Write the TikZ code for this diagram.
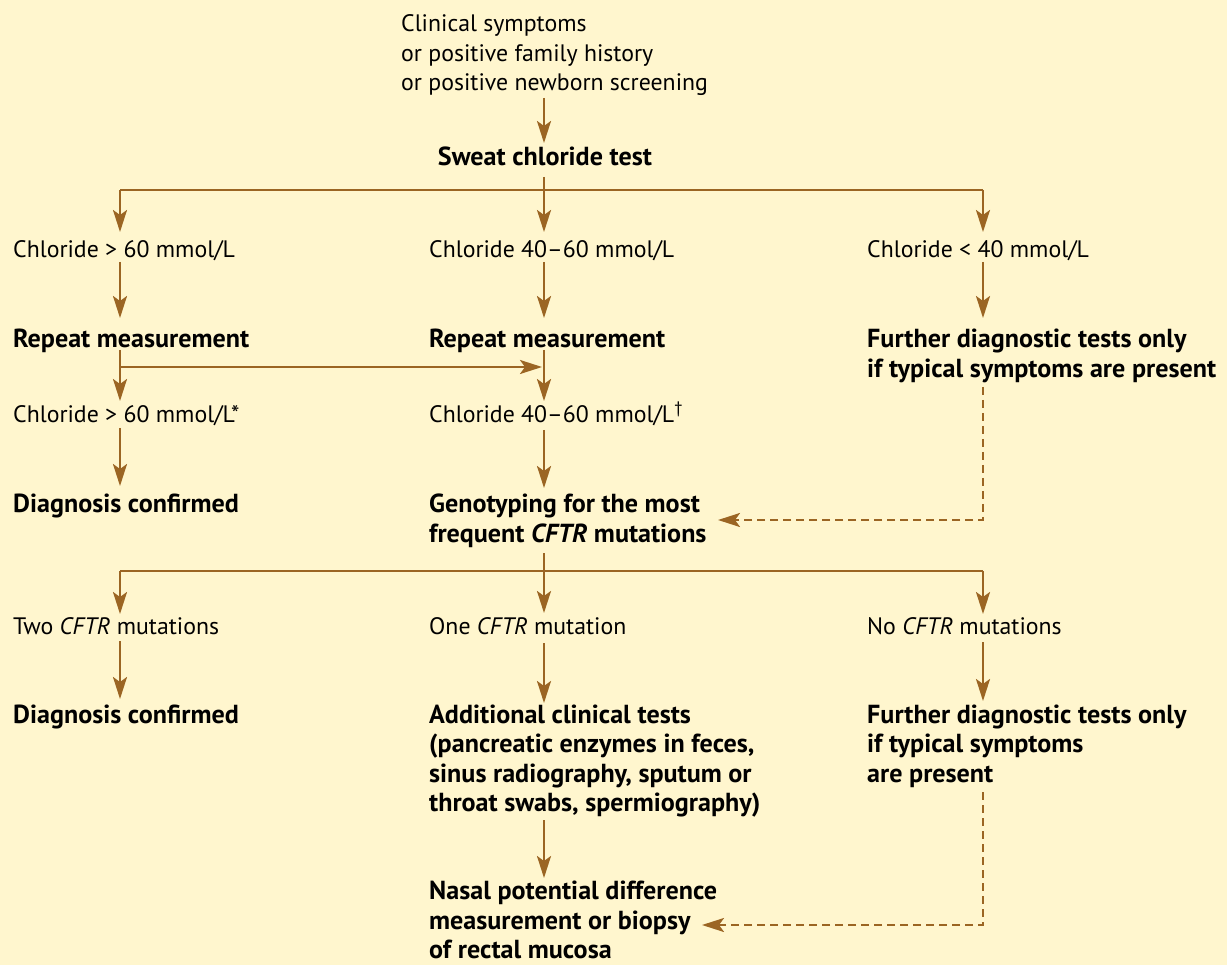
\documentclass[tikz,border=0pt]{standalone}
\usepackage{fontspec}
\setmainfont{PT Sans}
\usetikzlibrary{arrows.meta}
\definecolor{bg}{HTML}{FFF6CE}
\definecolor{br}{HTML}{9B6523}
\tikzset{
  txt/.style={anchor=base west, inner sep=0pt, align=left, font=\fontsize{23.8}{29.5}\selectfont},
  btxt/.style={txt, font=\fontsize{26.1}{29.5}\selectfont\bfseries},
  conn/.style={draw=br, line width=2.4pt},
  arr/.style={conn, -{Stealth[length=22pt, width=14pt, inset=5pt]}},
  darr/.style={arr, dash pattern=on 8pt off 5pt},
}
\begin{document}
\begin{tikzpicture}[x=1pt,y=-1pt]
\fill[bg] (0,0) rectangle (1227,965);
\useasboundingbox (0,0) rectangle (1227,965);

% text nodes (multi-line nodes are placed by the baseline of their last line)
\node[txt] (start) at (401,91) {Clinical symptoms\\or positive family history\\or positive newborn screening};
\node[btxt, anchor=base] (sweat) at (545,166) {Sweat chloride test};
\node[txt] (hi1) at (13,258) {Chloride > 60 mmol/L};
\node[txt] (mid1) at (429,258) {Chloride 40–60 mmol/L};
\node[txt] (lo1) at (867,258) {Chloride < 40 mmol/L};
\node[btxt] (rep1) at (13,348) {Repeat measurement};
\node[btxt] (rep2) at (429,348) {Repeat measurement};
\node[btxt] (fur1) at (867,377.5) {Further diagnostic tests only\\if typical symptoms are present};
\node[txt] (hi2) at (13,423) {Chloride > 60 mmol/L*};
\node[txt] (mid2) at (429,423) {Chloride 40–60 mmol/L\textsuperscript{†}};
\node[btxt] (conf1) at (13,513) {Diagnosis confirmed};
\node[btxt] (geno) at (429,542.5) {Genotyping for the most\\frequent \textit{CFTR} mutations};
\node[txt] (two) at (13,634) {Two \textit{CFTR} mutations};
\node[txt] (one) at (429,634) {One \textit{CFTR} mutation};
\node[txt] (none) at (867,634) {No \textit{CFTR} mutations};
\node[btxt] (conf2) at (13,723) {Diagnosis confirmed};
\node[btxt] (add) at (429,811.5) {Additional clinical tests\\(pancreatic enzymes in feces,\\sinus radiography, sputum or\\throat swabs, spermiography)};
\node[btxt] (fur2) at (867,782) {Further diagnostic tests only\\if typical symptoms\\are present};
\node[btxt] (nasal) at (429,958.5) {Nasal potential difference\\measurement or biopsy\\of rectal mucosa};

% connector points
\coordinate (startB) at (544,98);
\coordinate (sweatT) at (544,143);
\coordinate (sweatB) at (544,177);
\coordinate (j1L) at (120,190);
\coordinate (j1R) at (983,190);
\coordinate (hi1T) at (120,232);
\coordinate (mid1T) at (544,232);
\coordinate (lo1T) at (983,232);
\coordinate (hi1B) at (120,262);
\coordinate (mid1B) at (544,262);
\coordinate (lo1B) at (983,262);
\coordinate (rep1T) at (120,318);
\coordinate (rep2T) at (544,318);
\coordinate (fur1T) at (983,318);
\coordinate (rep1B) at (120,350);
\coordinate (rep2B) at (544,350);
\coordinate (rep1J) at (120,367);
\coordinate (rep2J) at (542,367);
\coordinate (hi2T) at (120,401);
\coordinate (mid2T) at (544,401);
\coordinate (hi2B) at (120,428);
\coordinate (mid2B) at (544,430);
\coordinate (conf1T) at (120,486);
\coordinate (genoT) at (544,488);
\coordinate (fur1B) at (983,387);
\coordinate (fur1C) at (983,520);
\coordinate (genoR) at (718,520);
\coordinate (genoB) at (544,553);
\coordinate (j2L) at (120,571);
\coordinate (j2R) at (983,571);
\coordinate (twoT) at (120,614);
\coordinate (oneT) at (544,613);
\coordinate (noneT) at (983,614);
\coordinate (twoB) at (120,641);
\coordinate (oneB) at (544,643);
\coordinate (noneB) at (983,642);
\coordinate (conf2T) at (120,699);
\coordinate (addT) at (544,703);
\coordinate (fur2T) at (983,701);
\coordinate (addB) at (544,820);
\coordinate (nasalT) at (544,878);
\coordinate (fur2B) at (983,792);
\coordinate (fur2C) at (983,925);
\coordinate (nasalR) at (702,925);

% connectors
\draw[arr] (startB) -- (sweatT);
\draw[conn] (j1L) -- (j1R);
\draw[arr] (sweatB) -- (mid1T);
\draw[arr] (j1L) -- (hi1T);
\draw[arr] (j1R) -- (lo1T);
\draw[arr] (hi1B) -- (rep1T);
\draw[arr] (mid1B) -- (rep2T);
\draw[arr] (lo1B) -- (fur1T);
\draw[arr] (rep1B) -- (hi2T);
\draw[arr] (rep1J) -- (rep2J);
\draw[arr] (rep2B) -- (mid2T);
\draw[arr] (hi2B) -- (conf1T);
\draw[arr] (mid2B) -- (genoT);
\draw[darr] (fur1B) -- (fur1C) -- (genoR);
\draw[conn] (j2L) -- (j2R);
\draw[arr] (genoB) -- (oneT);
\draw[arr] (j2L) -- (twoT);
\draw[arr] (j2R) -- (noneT);
\draw[arr] (twoB) -- (conf2T);
\draw[arr] (oneB) -- (addT);
\draw[arr] (noneB) -- (fur2T);
\draw[arr] (addB) -- (nasalT);
\draw[darr] (fur2B) -- (fur2C) -- (nasalR);
\end{tikzpicture}
\end{document}
